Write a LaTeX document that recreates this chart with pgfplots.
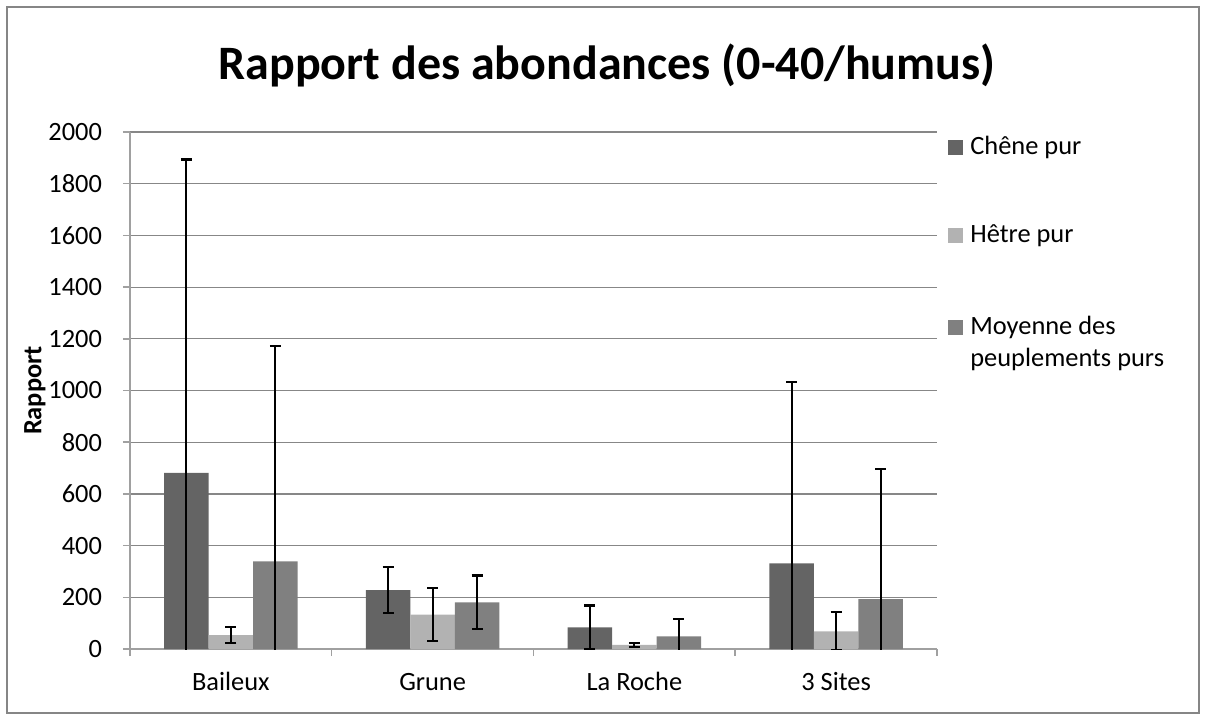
\documentclass[border=0pt]{standalone}
\usepackage{fontspec}
\setmainfont{Carlito}
\usepackage{pgfplots}
\pgfplotsset{compat=1.18}

\definecolor{chene}{HTML}{646464}
\definecolor{hetre}{HTML}{B2B2B2}
\definecolor{moy}{HTML}{808080}
\definecolor{gridc}{HTML}{878787}
\definecolor{axc}{HTML}{A0A0A0}
\definecolor{framec}{HTML}{868686}

\begin{document}
\begin{tikzpicture}
% picture box: 1206 x 720 px at 0.5pt/px, axis box lower-left at origin
\useasboundingbox (-65pt,-35.5pt) rectangle (538pt,324.5pt);
\draw[framec,line width=0.8pt] (-61.5pt,-32pt) rectangle (534.5pt,321pt);
\node[anchor=base,font=\bfseries\fontsize{24}{29}\selectfont] at (238.5pt,284.6pt) {Rapport des abondances (0-40/humus)};
\begin{axis}[scale only axis,width=403.5pt,height=258.5pt,
  xmin=-0.5,xmax=3.5,ymin=0,ymax=2000,
  ytick={0,200,...,2000},
  xtick={0,1,2,3},xticklabels={Baileux,Grune,La Roche,3 Sites},
  minor xtick={-0.5,0.5,1.5,2.5,3.5},
  major x tick style={draw=none},
  tick align=outside,major tick length=3.5pt,minor tick length=3.5pt,
  axis x line*=bottom,axis y line*=left,
  axis line style={axc,line width=0.75pt,-},
  tick style={axc,line width=0.75pt},
  ymajorgrids,major grid style={gridc,line width=0.6pt},
  ybar=0pt,bar width=22.25pt,
  ticklabel style={font=\fontsize{13.2}{16}\selectfont},
  xticklabel style={anchor=base,yshift=-17pt},
  yticklabel style={xshift=-7pt},
  /pgf/number format/assume math mode=true,
  /pgf/number format/1000 sep={},
  every axis y label/.style={at={(axis description cs:-0.1177,0.5)},rotate=90,anchor=center,font=\bfseries\fontsize{13.2}{16}\selectfont},
  ylabel={Rapport},
  legend style={at={(1.0136,1.0)},anchor=north west,draw=none,fill=none,inner sep=0pt,
    row sep=29.5pt,font=\fontsize{13.2}{16}\selectfont,cells={anchor=base west}},
  legend image code/.code={\fill[#1,draw=none] (0pt,0pt) rectangle (7.5pt,7.5pt);},
  /tikz/every odd column/.append style={column sep=1.5pt},
  error bars/y dir=both,error bars/y explicit,
  error bars/error bar style={black,line width=1.1pt},
  error bars/error mark options={rotate=90,mark size=2.75pt,line width=1.1pt,black}]
\addplot[fill=chene,draw=none] coordinates {(0,681)+-(0,1213) (1,228)+-(0,90) (2,84)+-(0,84) (3,331)+-(0,702)};
\addlegendentry{Chêne pur}
\addplot[fill=hetre,draw=none] coordinates {(0,54)+-(0,30) (1,133)+-(0,102) (2,16)+-(0,7) (3,68)+-(0,74)};
\addlegendentry{Hêtre pur}
\addplot[fill=moy,draw=none] coordinates {(0,339)+-(0,834) (1,180)+-(0,104) (2,49)+-(0,67) (3,193)+-(0,504)};
\addlegendentry{\begin{tabular}[t]{@{}l@{}}Moyenne des\\peuplements purs\end{tabular}}
\end{axis}
\end{tikzpicture}
\end{document}
